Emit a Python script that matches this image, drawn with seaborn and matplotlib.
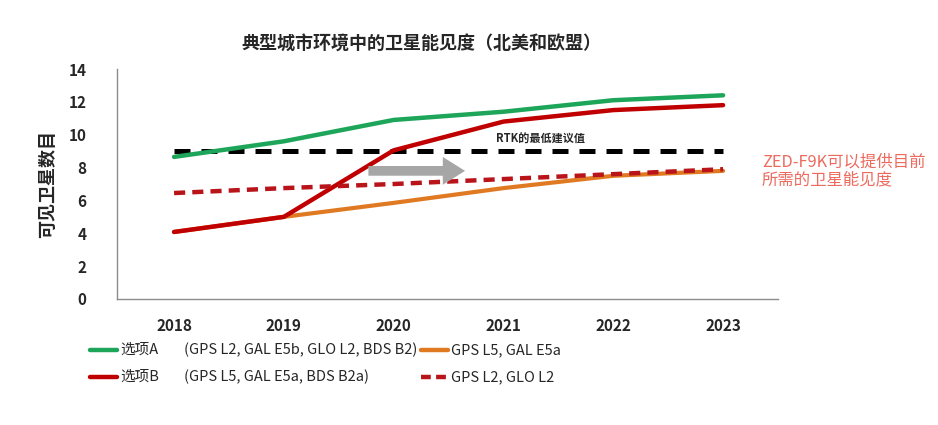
import pandas as pd
import numpy as np
import seaborn as sns
import matplotlib.pyplot as plt
from matplotlib.lines import Line2D

# Data
years = ['2018', '2019', '2020', '2021', '2022', '2023']
option_a = [8.65, 9.6, 10.9, 11.4, 12.1, 12.4]      # GPS L2, GAL E5b, GLO L2, BDS B2
option_b = [4.08, 5.0, 9.05, 10.8, 11.5, 11.8]      # GPS L5, GAL E5a, BDS B2a
gps_l5_gal_e5a = [4.08, 5.0, 5.85, 6.75, 7.5, 7.8]
gps_l2_glo_l2 = [6.45, 6.75, 7.0, 7.3, 7.6, 7.9]
rtk_min = [9.0] * 6

df = pd.DataFrame({
    'year': years,
    'A': option_a,
    'B': option_b,
    'L5': gps_l5_gal_e5a,
    'L2': gps_l2_glo_l2,
    'RTK': rtk_min,
})
df['x'] = np.arange(len(years))

sns.set_style('white')
plt.rcParams['font.family'] = ['Noto Sans CJK SC', 'DejaVu Sans']

green = '#1DA55A'
red = '#C00000'
orange = '#E07A22'
dred = '#B8141A'

fig = plt.figure(figsize=(9.38, 4.25), dpi=100)
ax = fig.add_axes([0.1247, 0.2965, 0.7047, 0.5411])

sns.lineplot(data=df, x='x', y='RTK', color='black', lw=3.6, ax=ax,
             dashes=False, linestyle=(0, (3.2, 2.2)))
sns.lineplot(data=df, x='x', y='A', color=green, lw=3.2, ax=ax)
sns.lineplot(data=df, x='x', y='L5', color=orange, lw=3.0, ax=ax)
sns.lineplot(data=df, x='x', y='B', color=red, lw=3.2, ax=ax)
sns.lineplot(data=df, x='x', y='L2', color=dred, lw=3.2, ax=ax,
             linestyle=(0, (2.5, 1.6)))

# grey arrow and RTK label
ax.annotate('', xy=(2.65, 7.8), xytext=(1.77, 7.8),
            arrowprops=dict(facecolor='#A6A6A6', edgecolor='none',
                            width=7, headwidth=20, headlength=16))
ax.text(3.34, 9.75, 'RTK的最低建议值', fontsize=8, fontweight='bold',
        ha='center', va='center')

ax.set_xlim(-0.52, 5.5)
ax.set_ylim(0, 14)
ax.set_yticks(range(0, 15, 2))
ax.set_xticks(df['x'])
ax.set_xticklabels(years)
ax.tick_params(axis='both', length=0, labelsize=11)
ax.tick_params(axis='x', pad=14)
ax.tick_params(axis='y', pad=22)
for lab in ax.get_xticklabels() + ax.get_yticklabels():
    lab.set_fontweight('bold')
ax.set_xlabel('')
ax.set_ylabel('可见卫星数目', fontsize=13, fontweight='bold', labelpad=8)
for side in ['top', 'right']:
    ax.spines[side].set_visible(False)
for side in ['left', 'bottom']:
    ax.spines[side].set_color('#8C8C8C')
    ax.spines[side].set_linewidth(1.0)

fig.text(0.449, 0.895, '典型城市环境中的卫星能见度（北美和欧盟）', fontsize=13,
         fontweight='bold', ha='center', va='center')

fig.text(0.812, 0.598, 'ZED-F9K可以提供目前\n所需的卫星能见度', fontsize=11.8,
         color='#EC6A5E', ha='left', va='center', linespacing=1.05)

# legend below the plot
def leg_line(x0, y, color, style='-'):
    fig.add_artist(Line2D([x0 / 938, (x0 + 27) / 938], [1 - y / 425, 1 - y / 425],
                          color=color, lw=3.2, linestyle=style,
                          transform=fig.transFigure))

rows = [
    (350, green, '-', '选项A', '(GPS L2, GAL E5b, GLO L2, BDS B2)', orange, '-', 'GPS L5, GAL E5a'),
    (377, red, '-', '选项B', '(GPS L5, GAL E5a, BDS B2a)', dred, (0, (2.2, 1.2)), 'GPS L2, GLO L2'),
]
for y, c1, s1, name, sigs, c2, s2, lab2 in rows:
    leg_line(90, y, c1, s1)
    fig.text(120 / 938, 1 - y / 425, name, fontsize=10.5, va='center')
    fig.text(184 / 938, 1 - y / 425, sigs, fontsize=10.5, va='center')
    leg_line(421, y, c2, s2)
    fig.text(451 / 938, 1 - y / 425, lab2, fontsize=10.5, va='center')

plt.savefig('out.png', dpi=100)
